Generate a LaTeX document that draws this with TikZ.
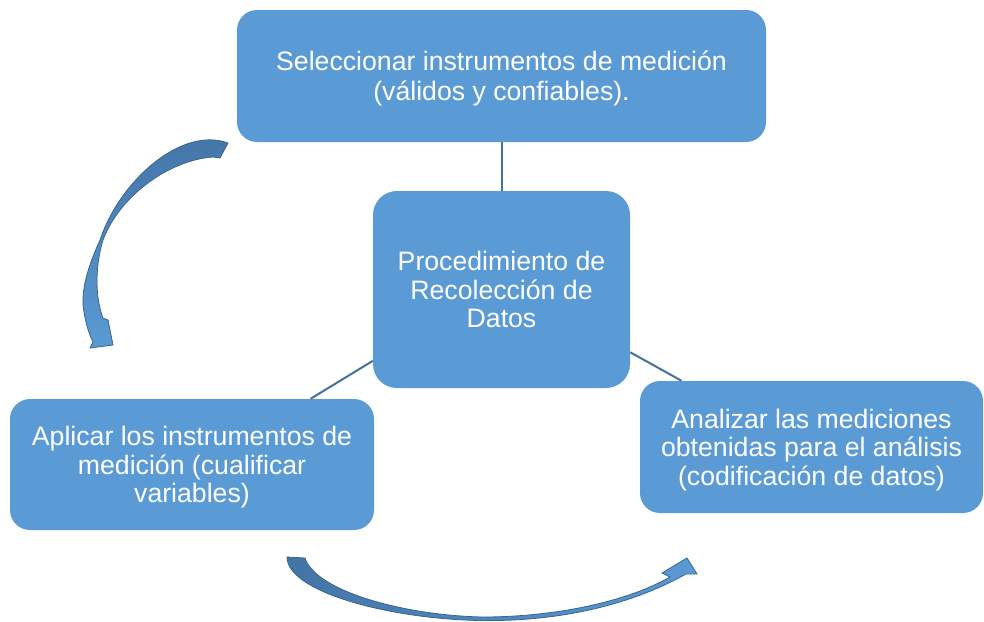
\documentclass[tikz,border=0pt]{standalone}
\usepackage{fontspec}
\setmainfont{Liberation Sans}
\definecolor{boxblue}{HTML}{5B9BD5}
\definecolor{lineblue}{HTML}{41719C}
\definecolor{arrdark}{HTML}{4474A6}
\definecolor{arrlight}{HTML}{5A9AD4}
\begin{document}
\begin{tikzpicture}[x=0.75pt,y=-0.75pt,
  box/.style={draw=none, fill=boxblue, rounded corners=15pt, text=white, align=center,
    font=\fontsize{20pt}{21.5pt}\selectfont, inner sep=0pt, text depth=0pt},
  conn/.style={draw=lineblue, line width=1.5pt},
  curvarrow/.style={draw=lineblue!90!black, line width=0.6pt, line join=miter}]
\useasboundingbox (0,0) rectangle (984,621);

\node[box, minimum width=396.75pt, minimum height=99pt,
  font=\fontsize{20pt}{22.5pt}\selectfont] (top) at (501.5,76)
  {Seleccionar instrumentos de medición\\(válidos y confiables).};
\node[box, minimum width=192.75pt, minimum height=147.75pt, rounded corners=18pt] (ctr) at (501.5,289.5)
  {Procedimiento de\\Recolección de\\Datos};
\node[box, minimum width=273pt, minimum height=98.25pt] (lft) at (192,464.5)
  {Aplicar los instrumentos de\\medición (cualificar\\variables)};
\node[box, minimum width=257.25pt, minimum height=99pt] (rgt) at (811.5,447)
  {Analizar las mediciones\\obtenidas para el análisis\\(codificación de datos)};

\draw[conn] (top.south) -- (ctr.north);
\draw[conn] (ctr.209.8) -- (lft.29.4);
\draw[conn] (ctr.-26) -- (rgt.153);

% left curved arrow
\path[curvarrow, top color=arrdark, bottom color=arrlight]
  (228,143) .. controls (182,126) and (120,180) .. (100,240)
  .. controls (90,262) and (82,285) .. (83,305)
  .. controls (85,322) and (89,334) .. (93,342)
  -- (90,348) -- (113,345) -- (108,320) -- (103,318)
  .. controls (96,300) and (94,270) .. (103,240)
  .. controls (120,195) and (170,160) .. (213,157)
  -- (220,158) -- cycle;

% bottom curved arrow
\path[curvarrow, left color=arrdark, right color=arrlight]
  (287,557) .. controls (287,592) and (390,619) .. (480,620.5)
  .. controls (570,622) and (640,600) .. (686,574)
  -- (697,574) -- (687,558) -- (662,573) -- (670,577)
  .. controls (630,600) and (560,617) .. (482,617)
  .. controls (400,615) and (315,590) .. (305,558) -- cycle;
\end{tikzpicture}
\end{document}
